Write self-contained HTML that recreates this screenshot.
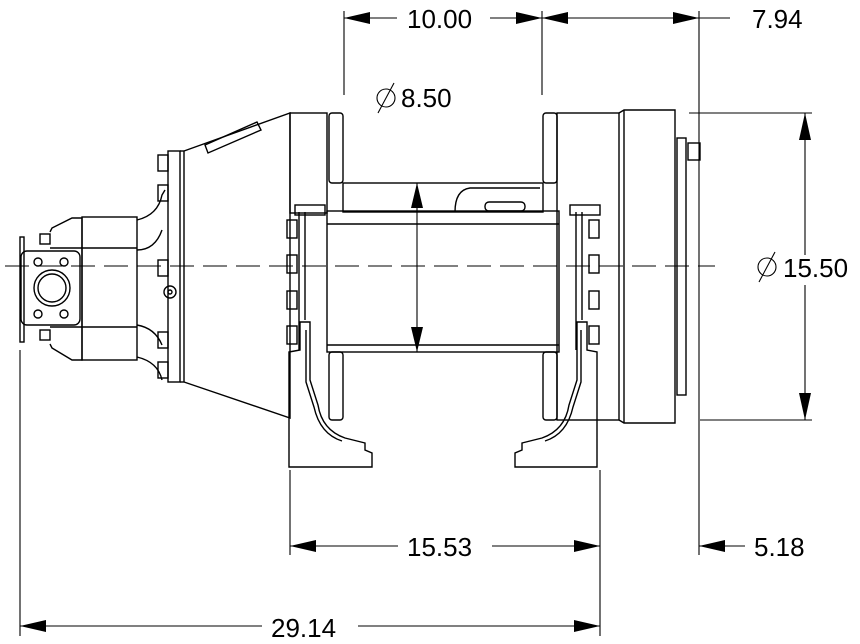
<!DOCTYPE html>
<html><head><meta charset="utf-8"><style>
html,body{margin:0;padding:0;background:#fff;}
svg{display:block;}
text{font-family:"Liberation Sans",sans-serif;font-size:26px;fill:#000;}
</style></head><body>
<svg width="860" height="644" viewBox="0 0 860 644" xmlns="http://www.w3.org/2000/svg">
<g fill="none" stroke="#000" stroke-width="1.4">
<!-- centerline -->
<line x1="5" y1="266" x2="715" y2="266" stroke-dasharray="24,9" stroke-width="1"/>
<!-- motor / pump -->
<rect x="21" y="251" width="59" height="74" rx="6"/>
<circle cx="52" cy="288" r="18"/><circle cx="52" cy="288" r="14"/>
<circle cx="38" cy="262" r="4"/><circle cx="64" cy="262" r="4"/>
<circle cx="38" cy="314" r="4"/><circle cx="64" cy="314" r="4"/>
<rect x="20" y="237" width="4" height="105"/>
<rect x="40" y="234" width="10" height="10"/><rect x="40" y="330" width="10" height="10"/>
<path d="M50 232 L52 228 L72 218 L82 218 L82 360 L72 360 L52 348 L50 344"/>
<line x1="50" y1="248" x2="82" y2="248"/><line x1="50" y1="327" x2="82" y2="327"/>
<rect x="82" y="217" width="55" height="143"/>
<line x1="82" y1="248" x2="137" y2="248"/><line x1="82" y1="327" x2="137" y2="327"/>
<path d="M137 220 Q158 215 162 195 L165 190"/><path d="M137 357 Q158 362 162 380"/>
<path d="M137 250 Q155 250 162 230"/><path d="M137 325 Q155 328 162 345"/>
<!-- flange & bolts -->
<rect x="168" y="151" width="12" height="231"/>
<line x1="180" y1="151" x2="184" y2="151"/><line x1="180" y1="382" x2="184" y2="382"/>
<rect x="158" y="155" width="10" height="16"/><rect x="158" y="185" width="10" height="16"/>
<rect x="158" y="260" width="10" height="16"/><rect x="158" y="332" width="10" height="16"/>
<rect x="158" y="362" width="10" height="16"/>
<circle cx="170" cy="292" r="6"/><circle cx="170" cy="292" r="2"/>
<!-- gear housing -->
<path d="M184 151 L290 113 L290 418 L184 382"/>
<line x1="184" y1="151" x2="184" y2="382"/>
<path d="M205 145 L257 122 L261 130 L208 153 Z"/>
<!-- left drum frame -->
<rect x="290" y="113" width="37" height="100"/>
<rect x="329" y="113" width="14" height="70" rx="3"/>
<rect x="329" y="352" width="14" height="68" rx="3"/>
<rect x="343" y="183" width="200" height="29"/>
<path d="M455 212 Q455 190 470 188 L540 188"/>
<rect x="485" y="202" width="40" height="9" rx="4"/>
<!-- drum -->
<rect x="327" y="211" width="232" height="141"/>
<line x1="327" y1="224" x2="559" y2="224"/><line x1="327" y1="345" x2="559" y2="345"/>
<!-- left side plates & bolts -->
<rect x="295" y="205" width="30" height="10"/>
<path d="M299 212 L299 350 M305 212 L305 320"/>
<rect x="287" y="220" width="10" height="18"/><rect x="287" y="255" width="10" height="18"/>
<rect x="287" y="291" width="10" height="18"/><rect x="287" y="326" width="10" height="18"/>
<!-- right frame -->
<rect x="543" y="113" width="14" height="70" rx="3"/>
<rect x="543" y="352" width="14" height="68" rx="3"/>
<rect x="557" y="113" width="62" height="307"/>
<rect x="570" y="205" width="30" height="10"/>
<path d="M576 212 L576 350 M582 212 L582 320"/>
<rect x="589" y="220" width="10" height="18"/><rect x="589" y="255" width="10" height="18"/>
<rect x="589" y="291" width="10" height="18"/><rect x="589" y="326" width="10" height="18"/>
<!-- motor housing right -->
<path d="M619 113 L624 110 L675 110 L675 423 L624 423 L619 420"/>
<line x1="624" y1="110" x2="624" y2="423"/>
<rect x="677" y="138" width="9" height="257"/>
<rect x="688" y="143" width="12" height="17"/>
<!-- feet -->
<path d="M289 352 L289 467 L372 467 L372 453 L365 450 L365 443 L345 438 Q322 430 318 405 L310 380 L310 322 L300 322 L300 350 Z"/>
<path d="M306 330 L306 382 L314 407 Q320 434 342 441"/>
<path d="M597 352 L597 467 L515 467 L515 453 L522 450 L522 443 L542 438 Q565 430 569 405 L577 380 L577 322 L587 322 L587 350 Z"/>
<path d="M581 330 L581 382 L573 407 Q567 434 545 441"/>
</g>
<g fill="none" stroke="#000" stroke-width="1.1">
<line x1="344" y1="11" x2="344" y2="95"/>
<line x1="542" y1="11" x2="542" y2="95"/>
<line x1="699" y1="11" x2="699" y2="555"/>
<line x1="689" y1="113" x2="812" y2="113"/>
<line x1="700" y1="420" x2="812" y2="420"/>
<line x1="290" y1="470" x2="290" y2="555"/>
<line x1="600" y1="470" x2="600" y2="636"/>
<line x1="20" y1="350" x2="20" y2="636"/>
<line x1="344" y1="18" x2="397" y2="18"/><line x1="490" y1="18" x2="542" y2="18"/>
<line x1="542" y1="18" x2="699" y2="18"/><line x1="699" y1="18" x2="730" y2="18"/>
<line x1="805" y1="113" x2="805" y2="255"/><line x1="805" y1="285" x2="805" y2="420"/>
<line x1="417" y1="183" x2="417" y2="352"/>
<line x1="290" y1="546" x2="398" y2="546"/><line x1="492" y1="546" x2="600" y2="546"/>
<line x1="699" y1="546" x2="745" y2="546"/>
<line x1="20" y1="626" x2="262" y2="626"/><line x1="358" y1="626" x2="600" y2="626"/>
</g>
<g fill="#000">
<polygon points="344,18 370,12 370,24"/><polygon points="542,18 516,12 516,24"/>
<polygon points="542,18 568,12 568,24"/><polygon points="699,18 673,12 673,24"/>
<polygon points="805,113 799,140 811,140"/><polygon points="805,420 799,393 811,393"/>
<polygon points="417,183 411,208 423,208"/><polygon points="417,352 411,327 423,327"/>
<polygon points="290,546 316,540 316,552"/><polygon points="600,546 574,540 574,552"/>
<polygon points="699,546 725,540 725,552"/>
<polygon points="20,626 46,620 46,632"/><polygon points="600,626 574,620 574,632"/>
</g>
<text x="407" y="28">10.00</text>
<text x="752" y="28">7.94</text>
<text x="401" y="107">8.50</text>
<g fill="none" stroke="#000" stroke-width="1.1"><circle cx="386" cy="98" r="9"/><line x1="378" y1="113" x2="394" y2="83"/></g>
<text x="783" y="277">15.50</text>
<g fill="none" stroke="#000" stroke-width="1.1"><circle cx="767" cy="267" r="9"/><line x1="759" y1="282" x2="775" y2="252"/></g>
<text x="407" y="556">15.53</text>
<text x="754" y="556">5.18</text>
<text x="271" y="637">29.14</text>
</svg>
</body></html>
